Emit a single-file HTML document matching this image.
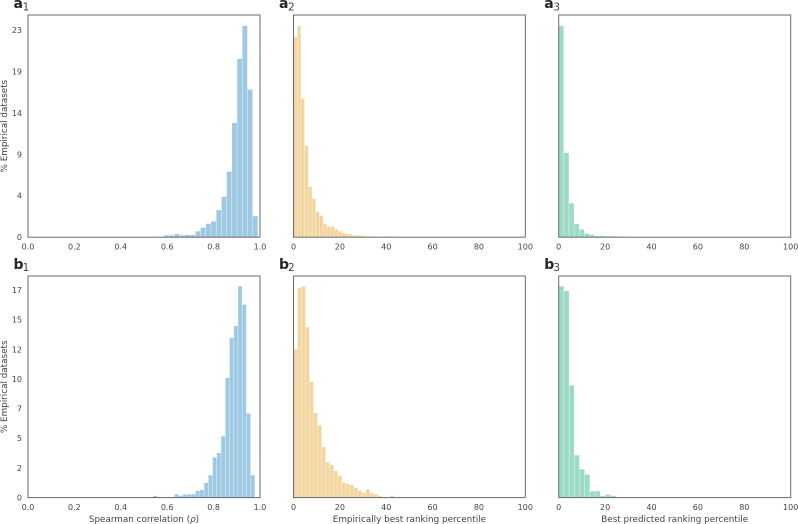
<!DOCTYPE html>
<html>
<head>
<meta charset="utf-8">
<style>
html,body{margin:0;padding:0;background:#fff;width:798px;height:524px;overflow:hidden}
svg{display:block}
text{font-family:"DejaVu Sans","Liberation Sans",sans-serif;fill:#444}
</style>
</head>
<body>
<svg id="figure" width="798" height="524" viewBox="0 0 798 524" xmlns="http://www.w3.org/2000/svg"></svg>
<script>
const a1Values = [0.2,0.2,0.35,0.2,0.25,0.25,0.65,1.07,1.5,1.75,3.0,4.5,7.3,12.7,19.8,23.48,16.4,2.33];
const a2Values = [22.26,23.48,15.4,10.15,5.6,4.26,2.8,2.4,1.48,1.2,1.2,0.93,0.67,0.44,0.37,0.33,0.19,0.19,0.15,0.07,0.07,0.1,0.03,0.03,0.06,0.02,0.07];
const a3Values = [23.48,9.37,3.78,1.48,0.85,0.41,0.26,0.15,0.15,0.1,0.1,0.07,0.04];
const b1Values = [0.05,0.14,0,0,0.05,0,0.27,0.16,0.27,0.27,0.27,0.55,0.63,1.2,1.83,3.28,3.66,5.03,9.8,13.09,14.07,17.32,15.82,6.89,1.83];
const b2Values = [12.16,17.2,17.32,13.96,9.48,6.94,5.93,4.13,2.9,2.68,2.19,1.78,1.23,1.12,1.04,0.79,0.57,0.38,0.68,0.36,0.25,0.14,0.03,0.05,0.16];
const b3Values = [17.32,16.94,9.2,3.47,2.32,1.89,0.52,0.52,0.14,0.25,0.14];

const a1BinStart = 0.586, a1BinWidth = 0.0225;
const a2BinStart = 0, a2BinWidth = 1.6;
const a3BinStart = 0, a3BinWidth = 2.21;
const b1BinStart = 0.5216, b1BinWidth = 0.01825;
const b2BinStart = 0, b2BinWidth = 1.735;
const b3BinStart = 0, b3BinWidth = 2.24;

const aYTicks = [0,4.6,9.2,13.8,18.4,23];
const aYTickLabels = ['0','4','9','14','19','23'];
const bYTicks = [0,2.43,4.86,7.29,9.71,12.14,14.57,17];
const bYTickLabels = ['0','2','5','7','10','12','15','17'];
const corrTicks = [0,0.2,0.4,0.6,0.8,1.0];
const corrTickLabels = ['0.0','0.2','0.4','0.6','0.8','1.0'];
const pctTicks = [0,20,40,60,80,100];
const pctTickLabels = ['0','20','40','60','80','100'];

const NS = 'http://www.w3.org/2000/svg';
const svg = document.getElementById('figure');

function make(parent, tag, attrs, text) {
  const el = document.createElementNS(NS, tag);
  for (const k in attrs) el.setAttribute(k, attrs[k]);
  if (text !== undefined) el.textContent = text;
  parent.appendChild(el);
  return el;
}

const rowA = {top: 15, bottom: 237.2, pxPerUnit: 9, yTicks: aYTicks, yLabels: aYTickLabels, tickY: 249.6, panelY: 8, subY: 10.5};
const rowB = {top: 276, bottom: 497.6, pxPerUnit: 12.2, yTicks: bYTicks, yLabels: bYTickLabels, tickY: 510.2, panelY: 269, subY: 271};
const colOne = {left: 28, right: 260, letterX: 13.5, subX: 22.6};
const colTwo = {left: 293.5, right: 525.3, letterX: 279, subX: 288};
const colThree = {left: 558.7, right: 790.7, letterX: 544.2, subX: 553.4};

function drawPanel(id, letter, sub, row, col, values, binStart, binWidth, xMax, xTicks, xLabels, color, xTitle, showY) {
  const g = make(svg, 'g', {});
  
  

  const xScale = v => col.left + (v / xMax) * (col.right - col.left);
  const yScale = v => row.bottom - v * row.pxPerUnit;

  const barGroup = make(g, 'g', {});
  
  
  values.forEach((v, i) => {
    const x0 = xScale(binStart + i * binWidth);
    const x1 = xScale(binStart + (i + 1) * binWidth);
    const bar = make(barGroup, 'rect', {x: x0 + 0.2, y: yScale(v), width: Math.max(0, x1 - x0 - 0.4), height: row.bottom - yScale(v), fill: color});
    
    
  });

  const frame = make(g, 'rect', {x: col.left, y: row.top, width: col.right - col.left, height: row.bottom - row.top, fill: 'none', stroke: '#6a6a6a', 'stroke-width': 1});
  
  

  xTicks.forEach((t, i) => {
    const lbl = make(g, 'text', {x: xScale(t), y: row.tickY, 'text-anchor': 'middle', 'font-size': 8}, xLabels[i]);
    
    
  });

  if (showY) {
    row.yTicks.forEach((t, i) => {
      const lbl = make(g, 'text', {x: 22, y: yScale(t) + 2.9, 'text-anchor': 'end', 'font-size': 8}, row.yLabels[i]);
      
      
    });
    const cy = (row.top + row.bottom) / 2;
    const yt = make(g, 'text', {x: 7, y: cy, 'text-anchor': 'middle', 'font-size': 8.8, transform: 'rotate(-90 7 ' + cy + ')'}, '% Empirical datasets');
    
    
  }

  if (xTitle) {
    const xt = make(g, 'text', {x: (col.left + col.right) / 2, y: 522, 'text-anchor': 'middle', 'font-size': 8.8}, '');
    
    
    xt.appendChild(document.createTextNode(xTitle[0]));
    if (xTitle.length > 1) {
      const it = make(xt, 'tspan', {'font-style': 'italic'}, xTitle[1]);
      
      
      xt.appendChild(document.createTextNode(xTitle[2]));
    }
  }

  const letterEl = make(g, 'text', {x: col.letterX, y: row.panelY, 'font-size': 14, 'font-weight': 'bold', style: 'fill:#262626'}, letter);
  
  
  const subEl = make(g, 'text', {x: col.subX, y: row.subY, 'font-size': 10.5}, sub);
  
  
}

const blue = '#9dc9e2', orange = '#f3d5a0', green = '#9bdbc8';

drawPanel('a1','a','1',rowA,colOne,a1Values,a1BinStart,a1BinWidth,1,corrTicks,corrTickLabels,blue,null,true);
drawPanel('a2','a','2',rowA,colTwo,a2Values,a2BinStart,a2BinWidth,100,pctTicks,pctTickLabels,orange,null,false);
drawPanel('a3','a','3',rowA,colThree,a3Values,a3BinStart,a3BinWidth,100,pctTicks,pctTickLabels,green,null,false);
drawPanel('b1','b','1',rowB,colOne,b1Values,b1BinStart,b1BinWidth,1,corrTicks,corrTickLabels,blue,['Spearman correlation (','ρ',')'],true);
drawPanel('b2','b','2',rowB,colTwo,b2Values,b2BinStart,b2BinWidth,100,pctTicks,pctTickLabels,orange,['Empirically best ranking percentile'],false);
drawPanel('b3','b','3',rowB,colThree,b3Values,b3BinStart,b3BinWidth,100,pctTicks,pctTickLabels,green,['Best predicted ranking percentile'],false);
</script>
</body>
</html>
